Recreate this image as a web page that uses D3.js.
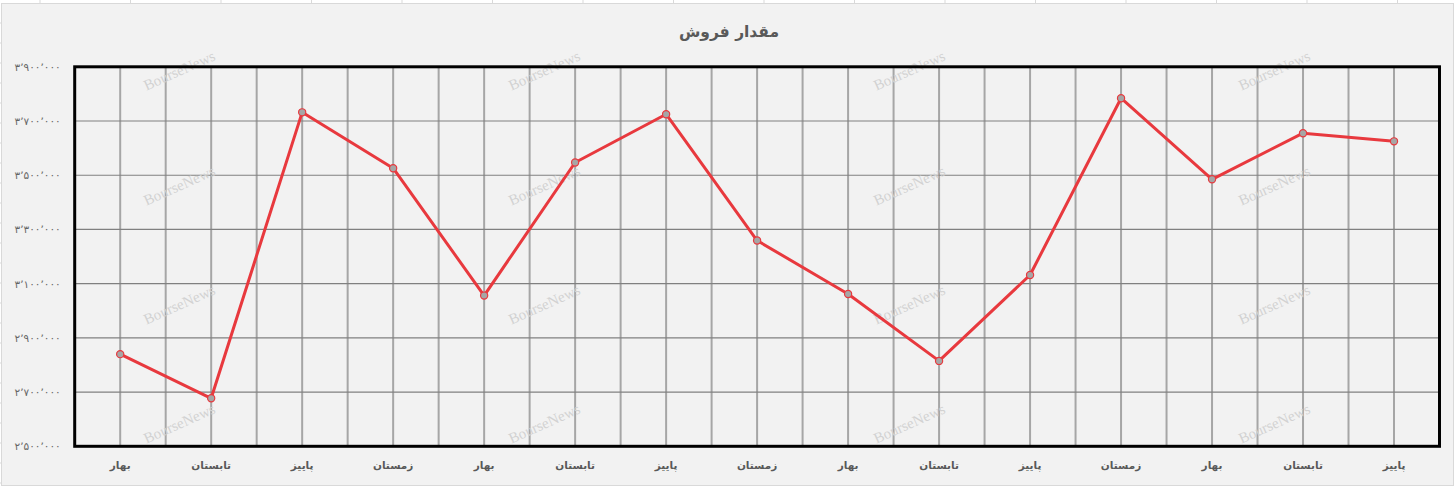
<!DOCTYPE html>
<html><head><meta charset="utf-8">
<script src="https://cdn.jsdelivr.net/npm/d3@7"></script>
<style>
html,body{margin:0;padding:0;background:#fff;}
svg{display:block;}
</style></head>
<body>
<svg id="chart" width="1456" height="487"></svg>
<script>
const categories = ["بهار","تابستان","پاییز","زمستان","بهار","تابستان","پاییز","زمستان","بهار","تابستان","پاییز","زمستان","بهار","تابستان","پاییز"];
const salesValues = [2840000,2677000,3732000,3526000,3056000,3547000,3725000,3259000,3062000,2815000,3132000,3784000,3485000,3655000,3625000];
const yTicks = [2500000,2700000,2900000,3100000,3300000,3500000,3700000,3900000];
const titleText = "مقدار فروش";
const watermarkText = "BourseNews";

const W = 1456, H = 487;
const svg = d3.select("#chart");
const fa = "۰۱۲۳۴۵۶۷۸۹";
const toFa = s => s.replace(/[0-9]/g, d => fa[+d]).replace(/,/g, "٬");
const fmt = v => toFa(d3.format(",")(v));

// spreadsheet background
svg.append("rect").attr("x",0).attr("y",0).attr("width",W).attr("height",H).attr("fill","#ffffff");
const colLines = d3.range(40, W, 90.5);
svg.selectAll(".col").data(colLines).join("line")
  .attr("x1",d=>d).attr("x2",d=>d).attr("y1",0).attr("y2",3)
  .attr("stroke","#d9d9d9").attr("stroke-width",1);
// chart area
svg.append("rect").attr("x",1.5).attr("y",3.5).attr("width",W-4).attr("height",H-5)
  .attr("fill","#f2f2f2").attr("stroke","#d9d9d9").attr("stroke-width",1);
svg.selectAll(".row").data(d3.range(23, H, 20)).join("line")
  .attr("x1",0).attr("x2",2).attr("y1",d=>d).attr("y2",d=>d)
  .attr("stroke","#d9d9d9").attr("stroke-width",1);

const m = {l:74.7, r:1439.5, t:66.8, b:446.3};
const x = d3.scaleBand().domain(d3.range(categories.length)).range([m.l, m.r]).padding(0);
const y = d3.scaleLinear().domain([2500000, 3900000]).range([m.b, m.t]);
const cx = i => x(i) + x.bandwidth()/2;

// vertical gridlines at band centers and boundaries
const vLines = [];
categories.forEach((c,i)=>{ vLines.push(cx(i)); if(i>0) vLines.push(x(i)); });
svg.append("g").selectAll("line").data(vLines).join("line")
  .attr("x1",d=>d).attr("x2",d=>d).attr("y1",m.t).attr("y2",m.b)
  .attr("stroke","#a6a6a6").attr("stroke-width",2);

// horizontal gridlines
svg.append("g").selectAll("line").data(yTicks).join("line")
  .attr("x1",m.l).attr("x2",m.r).attr("y1",d=>y(d)).attr("y2",d=>y(d))
  .attr("stroke","#808080").attr("stroke-width",1.2);

// watermark
const wmX = [180,545,910,1275], wmY = [72,187,306,425];
const wm = svg.append("g");
wmY.forEach(yy=>wmX.forEach(xx=>{
  wm.append("text").attr("transform",`translate(${xx},${yy}) rotate(-24)`)
    .attr("text-anchor","middle").attr("dominant-baseline","middle")
    .attr("font-family","Liberation Serif, serif").attr("font-size",15)
    .attr("fill","#d2d2d2").text(watermarkText);
}));

// plot border
svg.append("rect").attr("x",m.l).attr("y",m.t).attr("width",m.r-m.l).attr("height",m.b-m.t)
  .attr("fill","none").attr("stroke","#000").attr("stroke-width",3);

// y axis labels
const yAxis = d3.axisLeft(y).tickValues(yTicks).tickSize(0).tickPadding(14).tickFormat(fmt);
const ya = svg.append("g").attr("transform",`translate(${m.l},0)`).call(yAxis);
ya.select(".domain").remove();
ya.selectAll("text").attr("font-family","DejaVu Sans, sans-serif").attr("font-size",10.5)
  .attr("fill","#666666");

// x axis labels
const xAxis = d3.axisBottom(x).tickSize(0).tickPadding(15).tickFormat(i=>categories[i]);
const xa = svg.append("g").attr("transform",`translate(0,${m.b})`).call(xAxis);
xa.select(".domain").remove();
xa.selectAll("text").attr("font-family","DejaVu Sans, sans-serif").attr("font-size",10.5)
  .attr("font-weight","bold").attr("fill","#595959");

// line
const line = d3.line().x((d,i)=>cx(i)).y(d=>y(d));
svg.append("path").datum(salesValues).attr("d",line)
  .attr("fill","none").attr("stroke","#e8393e").attr("stroke-width",3)
  .attr("stroke-linejoin","round");
svg.append("g").selectAll("circle").data(salesValues).join("circle")
  .attr("cx",(d,i)=>cx(i)).attr("cy",d=>y(d)).attr("r",3.6)
  .attr("fill","#a6a6a6").attr("stroke","#e8393e").attr("stroke-width",1.2);

// title
svg.append("text").attr("x",729).attr("y",37).attr("text-anchor","middle")
  .attr("font-family","DejaVu Sans, sans-serif").attr("font-size",15.5).attr("font-weight","bold")
  .attr("fill","#595959").text(titleText);
</script>
</body></html>
